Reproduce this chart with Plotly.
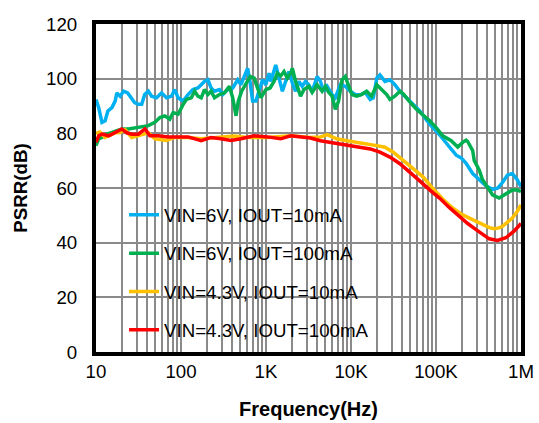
import plotly.graph_objects as go

# PSRR vs frequency for the LDO at two input voltages and two load currents
freq_6v_10ma = [10, 10.75, 11.75, 12.8, 13.8, 15.4, 16.8, 17.6, 19.2, 21.1, 23.6, 26.3, 28.5, 31.5,
                34.5, 37.4, 41.3, 45.1, 51.6, 59, 67.5, 77.3, 84.4, 92.5, 106, 121, 138, 158, 173,
                189, 207, 226, 248, 283, 310, 355, 406, 465, 508, 608, 652, 696, 760, 831, 911, 995,
                1088, 1138, 1302, 1422, 1559, 1703, 1861, 2040, 2229, 2436, 2669, 2917, 3188, 3493,
                3996, 4368, 4764, 5230, 5983, 6537, 7478, 8555, 9788, 11200, 12800, 14700, 16800,
                18300, 20100, 21900, 25100, 28700, 32800, 37600, 49200, 64300, 84200, 110000,
                144000, 173000, 198000, 226000, 270000, 323000, 387000, 462000, 529000, 605000,
                692000, 791000, 905000, 1000000]
psrr_6v_10ma = [92.4, 89.4, 84, 84.6, 88.2, 89.4, 91.8, 94.8, 93.6, 95.4, 94.8, 92.4, 91.2, 90.6,
                90.6, 94.2, 95.4, 93.6, 93, 94.8, 93, 93.6, 96, 93, 91.8, 94.2, 96, 96.6, 97.8,
                99, 99.6, 96.6, 95.4, 96, 94.2, 96, 96.6, 99.6, 97.8, 103.8, 98.4, 91.8, 91.8, 95.4,
                99.6, 97.8, 102, 99, 105, 100.2, 95.4, 99, 102.6, 98.4, 95.4, 99, 97.2, 99, 97.8,
                95.4, 100.8, 99, 95.4, 97.2, 94.2, 93, 97.8, 97.2, 95.4, 94.2, 94, 95, 92.4, 93,
                100.2, 101.4, 99, 99.6, 97.8, 95.4, 91.8, 88.2, 83.4, 79.5, 75, 72, 71, 69, 65.3,
                63, 60.8, 59.5, 59.9, 62, 64.7, 65.3, 63, 60.5]

freq_6v_100ma = [10, 10.75, 11.75, 13.4, 15.4, 17.6, 20.1, 24.1, 28.8, 34.5, 41.3, 49.3, 56.4, 64.5,
                 73.8, 80.9, 92.5, 106, 116, 132, 145, 158, 173, 189, 207, 226, 248, 283, 324, 371,
                 406, 444, 472, 517, 581, 652, 726, 796, 870, 995, 1117, 1243, 1362, 1489, 1628,
                 1782, 1948, 2040, 2229, 2550, 2787, 3188, 3493, 3996, 4571, 4995, 5458, 5983, 6537,
                 7145, 7828, 8555, 9350, 10245, 11700, 13400, 15300, 17500, 20100, 22900, 26300,
                 28700, 32800, 37600, 41100, 49200, 58900, 70300, 84200, 101000, 120000, 151000,
                 180000, 206000, 226000, 236000, 270000, 282000, 323000, 353000, 387000, 441000,
                 462000, 553000, 663000, 791000, 905000, 1000000]
psrr_6v_100ma = [75.5, 78, 78.5, 79.7, 80.3, 81, 81.6, 81.6, 81.9, 82.4, 82.8, 84, 85.8, 86.4,
                 85.2, 87.6, 87, 90.6, 92.4, 93, 95.4, 93.6, 93, 96, 94.2, 95.4, 93, 94.2, 94.8,
                 97.2, 93, 86.4, 91.8, 95.4, 98.4, 100.8, 100.2, 96.6, 93, 96, 96.6, 99, 102, 101,
                 102.6, 100.2, 102, 103.8, 99, 93.6, 96, 97.2, 95, 97.8, 95.4, 97.2, 95, 93.6, 88.8,
                 91.8, 99.6, 100.8, 97.2, 94.2, 93.6, 94.2, 95.4, 93.6, 97.8, 96, 94.2, 92.4, 93.6,
                 95.4, 94.5, 91.5, 88.8, 86.7, 84.6, 82, 79.1, 77.3, 75, 76.7, 77.5, 77, 73.7, 70,
                 66.5, 63, 61.1, 58, 57.5, 56.3, 57.8, 59.3, 59.3, 58.7]

freq_43v_10ma = [10, 11.1, 12.8, 14.7, 16.8, 19.2, 22, 26.3, 34.5, 41.3, 49.3, 67.5, 84.4, 121, 173,
                 248, 424, 608, 1038, 1948, 3337, 4368, 5272, 5983, 6823, 8959, 11700, 15300,
                 20100, 25100, 31400, 41100, 53700, 70300, 92000, 120000, 158000, 198000, 247000,
                 296000, 353000, 423000, 484000, 553000, 605000, 692000, 791000, 905000, 1000000]
psrr_43v_10ma = [80, 80.5, 78.5, 79.5, 80.2, 80.3, 81.3, 78.5, 79.7, 80.2, 78, 77.4, 78.5, 78.5, 78,
                 78.5, 79, 78.5, 78.5, 79.1, 78.5, 78.7, 79.5, 78.7, 78, 77.3, 76.8, 76.1, 75.5,
                 74.9, 73.1, 70.1, 67.1, 64.1, 59.8, 56, 52.6, 50.5, 49, 47.8, 46.6, 45.5, 45.1,
                 45.4, 46, 47.5, 49, 51.5, 53.8]

freq_43v_100ma = [10, 10.75, 11.75, 14.1, 16.8, 20.1, 23, 26.3, 31.5, 37.6, 43, 54, 70.5, 92.5, 121,
                  173, 226, 295, 388, 508, 726, 1038, 1489, 1948, 2550, 3337, 4368, 5715, 7478,
                  9788, 12800, 16800, 21900, 28700, 37600, 49200, 64300, 84200, 110000, 144000,
                  189000, 236000, 296000, 353000, 423000, 529000, 663000, 828000, 1000000]
psrr_43v_100ma = [76.7, 79.1, 79.7, 79.1, 80.3, 81.6, 80.2, 79.7, 79.7, 81.6, 79.1, 79.1, 78.7, 78.7,
                  78.7, 77.3, 78.5, 78, 77.4, 78, 79.1, 78.7, 78, 79.1, 78.7, 78.3, 77.3, 76.7,
                  76.1, 75.8, 74.9, 74.3, 73.1, 71.3, 68.9, 65.9, 62.6, 59.3, 56.3, 52.8, 49.6, 47,
                  44.8, 43, 41.4, 40.8, 41.8, 44.2, 47]

series_names = ["VIN=6V, IOUT=10mA", "VIN=6V, IOUT=100mA",
                "VIN=4.3V, IOUT=10mA", "VIN=4.3V, IOUT=100mA"]
series_colors = ["#00B0F0", "#00B050", "#FFC000", "#FF0000"]

x_tick_vals = [10, 100, 1000, 10000, 100000, 1000000]
x_tick_text = ["10", "100", "1K", "10K", "100K", "1M"]
y_tick_vals = [0, 20, 40, 60, 80, 100, 120]

FONT = "Liberation Sans, Arial, sans-serif"
GRID = "#8a8a8a"

fig = go.Figure()
all_series = [(freq_6v_10ma, psrr_6v_10ma), (freq_6v_100ma, psrr_6v_100ma),
              (freq_43v_10ma, psrr_43v_10ma), (freq_43v_100ma, psrr_43v_100ma)]
for i, (fx, fy) in enumerate(all_series):
    fig.add_trace(go.Scatter(
        x=fx, y=fy, mode="lines", name=series_names[i], legendgroup=f"g{i}",
        line=dict(color=series_colors[i], width=3.5),
    ))

# white panel behind the legend, above the grid
fig.add_shape(type="rect", xref="paper", yref="paper", x0=0.003, x1=0.70, y0=0.015, y1=0.476,
              fillcolor="white", line=dict(width=0), layer="between")

fig.update_layout(
    width=539, height=423,
    margin=dict(l=96, r=18, t=24, b=71, autoexpand=False),
    paper_bgcolor="white", plot_bgcolor="white",
    font=dict(family=FONT, size=18.7, color="black"),
    showlegend=True,
    legend=dict(x=0.066, y=0.475, xanchor="left", yanchor="top",
                bgcolor="rgba(0,0,0,0)", borderwidth=0,
                font=dict(family=FONT, size=18.7, color="black"),
                traceorder="grouped", tracegroupgap=11),
)

fig.update_xaxes(
    type="log", range=[1, 6], automargin=False,
    tickvals=x_tick_vals, ticktext=x_tick_text,
    showgrid=True, gridcolor=GRID, gridwidth=1.5,
    minor=dict(dtick="D1", showgrid=True, gridcolor=GRID, gridwidth=1.5),
    showline=True, linewidth=4, linecolor="black", mirror=True,
    ticks="", tickfont=dict(family=FONT, size=18.7, color="black"),
    zeroline=False,
    title=dict(text="<b>Frequency(Hz)</b>", font=dict(family=FONT, size=20, color="black"),
               standoff=22),
)
fig.update_yaxes(
    range=[0, 120], tickvals=y_tick_vals, automargin=False,
    showgrid=True, gridcolor=GRID, gridwidth=1.5,
    showline=True, linewidth=4, linecolor="black", mirror=True,
    ticks="", ticklabelstandoff=11, tickfont=dict(family=FONT, size=18.7, color="black"),
    zeroline=False,
    title=dict(text="<b>PSRR(dB)</b>", font=dict(family=FONT, size=18.7, color="black"),
               standoff=15),
)

fig.write_html("out.html")
